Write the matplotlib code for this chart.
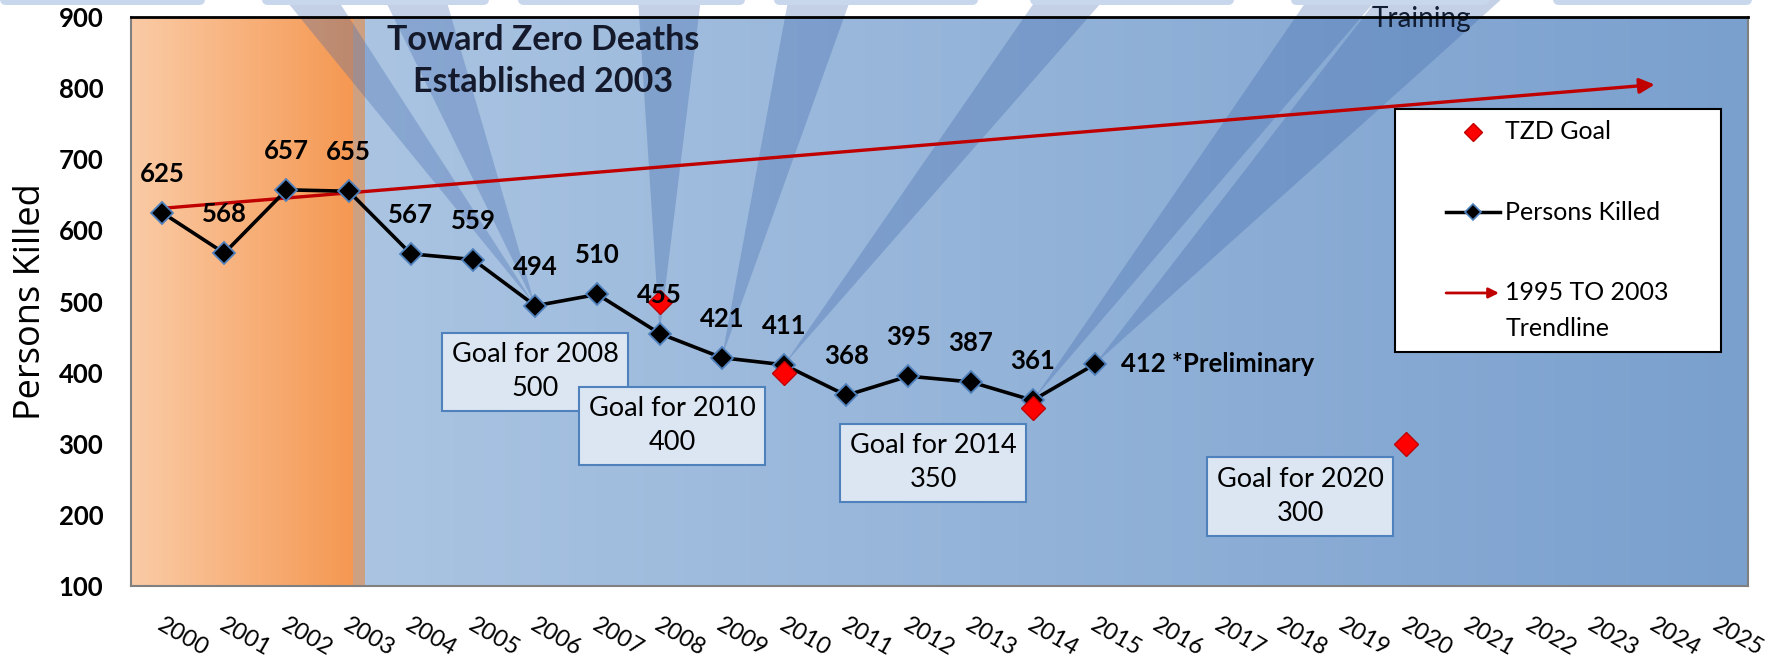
import matplotlib
matplotlib.use("Agg")
import matplotlib.pyplot as plt
import matplotlib.transforms as mtransforms
from matplotlib.patches import Polygon, Rectangle, FancyBboxPatch
from matplotlib.lines import Line2D
import numpy as np

plt.rcParams['font.family'] = ['Lato', 'DejaVu Sans']

# data
years = list(range(2000, 2026))
killed_years = list(range(2000, 2016))
killed = [625, 568, 657, 655, 567, 559, 494, 510, 455, 421, 411, 368, 395, 387, 361, 412]
goal_years = [2008, 2010, 2014, 2020]
goals = [500, 400, 350, 300]
trend_years = [2000, 2024]
trend = [631, 805]

# where the goal call-outs sit (category position, value)
box_x = [6.0, 8.2, 12.4, 18.3]
box_y = [401, 325, 273, 226]

# decorative light beams: the point they land on and where they leave the top
beam_apex = [2006, 2006, 2008, 2009, 2010, 2014, 2015]
beam_top = [(1.93, 2.78), (3.55, 4.55), (7.65, 8.67), (10.08, 11.09),
            (14.1, 15.2), (18.46, 19.58), (19.58, 21.6)]
# rounded strips along the top edge (pixels)
top_pills = [(0, 205), (262, 489), (518, 745), (774, 978), (1030, 1234),
             (1291, 1490), (1553, 1752)]

W, H = 1783, 664
fig = plt.figure(figsize=(W / 100, H / 100), dpi=100)
ax = fig.add_axes([131 / W, 78 / H, 1617 / W, 569 / H])

x0 = years[0]
kx = [y - x0 for y in killed_years]
gx = [y - x0 for y in goal_years]
tx = [y - x0 for y in trend_years]


def gradient(c0, c1, n=256):
    t = np.linspace(0, 1, n)[None, :, None]
    return np.array(c0)[None, None, :] / 255 * (1 - t) + np.array(c1)[None, None, :] / 255 * t


# background panels
ax.imshow(gradient((250, 203, 166), (245, 152, 82)), extent=[-0.5, 3.07, 100, 900],
          aspect='auto', zorder=0, interpolation='bilinear')
ax.axvspan(3.07, 3.27, color='#cda082', zorder=0, lw=0)
ax.imshow(gradient((170, 196, 226), (122, 160, 206)), extent=[3.27, 25.5, 100, 900],
          aspect='auto', zorder=0, interpolation='bilinear')
ax.set_xlim(-0.5, 25.5)
ax.set_ylim(100, 900)

for yr, (t0, t1) in zip(beam_apex, beam_top):
    i = killed_years.index(yr)
    ax.add_patch(Polygon([[kx[i], killed[i]], [t0, 930], [t1, 930]], closed=True,
                         fc='#3c64aa', ec='none', alpha=0.3, zorder=1, clip_on=False))

for a, b in top_pills:
    fig.add_artist(FancyBboxPatch((a / 100, (H - 5) / 100), (b - a) / 100, 0.3,
                                  boxstyle='round,pad=0,rounding_size=0.06',
                                  transform=fig.dpi_scale_trans, fc='#c8d7eb', ec='none'))

ax.text(0.798, 0.996, 'Training', transform=ax.transAxes, ha='center', va='center',
        fontsize=20, zorder=0.5, clip_on=False)

# series
ax.annotate('', xy=(tx[1], trend[1]), xytext=(tx[0], trend[0]),
            arrowprops=dict(arrowstyle='-|>,head_length=0.9,head_width=0.45',
                            color='#c00000', lw=2.4, shrinkA=0, shrinkB=0), zorder=3)
ax.plot(kx, killed, color='black', lw=2.6, marker='D', ms=11, mfc='black',
        mec='#4f81bd', mew=1.3, zorder=4)
ax.plot(gx, goals, ls='none', marker='D', ms=12, mfc='#ff0000', mec='#c00000',
        mew=1, zorder=5)

for i, (x, v) in enumerate(zip(kx, killed)):
    if i == len(kx) - 1:
        ax.annotate(f'{v} *Preliminary', (x, v), xytext=(19, 0), textcoords='offset points',
                    ha='left', va='center', fontsize=18.5, fontweight='bold', zorder=6)
    else:
        ax.annotate(str(v), (x, v), xytext=(0, 28), textcoords='offset points',
                    ha='center', va='center', fontsize=18.5, fontweight='bold', zorder=6)

for bx, by, yr, g in zip(box_x, box_y, goal_years, goals):
    ax.text(bx, by, f'Goal for {yr}\n{g}', ha='center', va='center', fontsize=19.5,
            linespacing=1.45, zorder=6,
            bbox=dict(boxstyle='square,pad=0.36', fc='#dce6f2', ec='#4f81bd', lw=1.5))

ax.text(0.255, 0.923, 'Toward Zero Deaths\nEstablished 2003', transform=ax.transAxes,
        ha='center', va='center', fontsize=24.5, fontweight='bold', color='#141a2c',
        linespacing=1.4, zorder=6)

# legend
ax.add_patch(Rectangle((0.782, 0.411), 0.201, 0.427, transform=ax.transAxes,
                       fc='white', ec='black', lw=1.5, zorder=7))
ax.add_line(Line2D([0.830], [0.798], transform=ax.transAxes, ls='none', marker='D',
                   ms=9, mfc='#ff0000', mec='#c00000', zorder=8))
ax.text(0.850, 0.798, 'TZD Goal', transform=ax.transAxes, va='center', fontsize=18, zorder=8)
ax.add_line(Line2D([0.8133, 0.8466], [0.657, 0.657], transform=ax.transAxes, color='black',
                   lw=2.5, zorder=8))
ax.add_line(Line2D([0.830], [0.657], transform=ax.transAxes, ls='none', marker='D', ms=8,
                   mfc='black', mec='#4f81bd', mew=1.2, zorder=9))
ax.text(0.850, 0.657, 'Persons Killed', transform=ax.transAxes, va='center', fontsize=18, zorder=8)
ax.annotate('', xy=(0.846, 0.515), xytext=(0.8133, 0.515), xycoords='axes fraction',
            arrowprops=dict(arrowstyle='-|>,head_length=0.6,head_width=0.3', color='#c00000',
                            lw=2, shrinkA=0, shrinkB=0), zorder=8)
ax.text(0.850, 0.515, '1995 TO 2003', transform=ax.transAxes, va='center', fontsize=18, zorder=8)
ax.text(0.850, 0.453, 'Trendline', transform=ax.transAxes, va='center', fontsize=18, zorder=8)

# axes styling
ax.set_xticks(range(len(years)))
ax.set_xticklabels([str(y) for y in years], rotation=-30, ha='left', va='top',
                   rotation_mode='anchor', fontsize=17)
ax.tick_params(axis='x', length=0, pad=20)
shift = mtransforms.ScaledTranslation(2 / 100, 0, fig.dpi_scale_trans)
for lbl in ax.get_xticklabels():
    lbl.set_transform(lbl.get_transform() + shift)

ax.set_yticks(range(100, 901, 100))
ax.tick_params(axis='y', length=0, pad=20, labelsize=18.5)
for lbl in ax.get_yticklabels():
    lbl.set_fontweight('bold')

ax.set_ylabel('Persons Killed', fontsize=26, family='Open Sans')
ax.yaxis.set_label_coords(-0.0507, 0.5)

ax.spines['top'].set_color('black')
ax.spines['top'].set_linewidth(2)
for s in ['left', 'bottom', 'right']:
    ax.spines[s].set_color('#808080')
    ax.spines[s].set_linewidth(1.5)

fig.savefig('out.png', dpi=100)
